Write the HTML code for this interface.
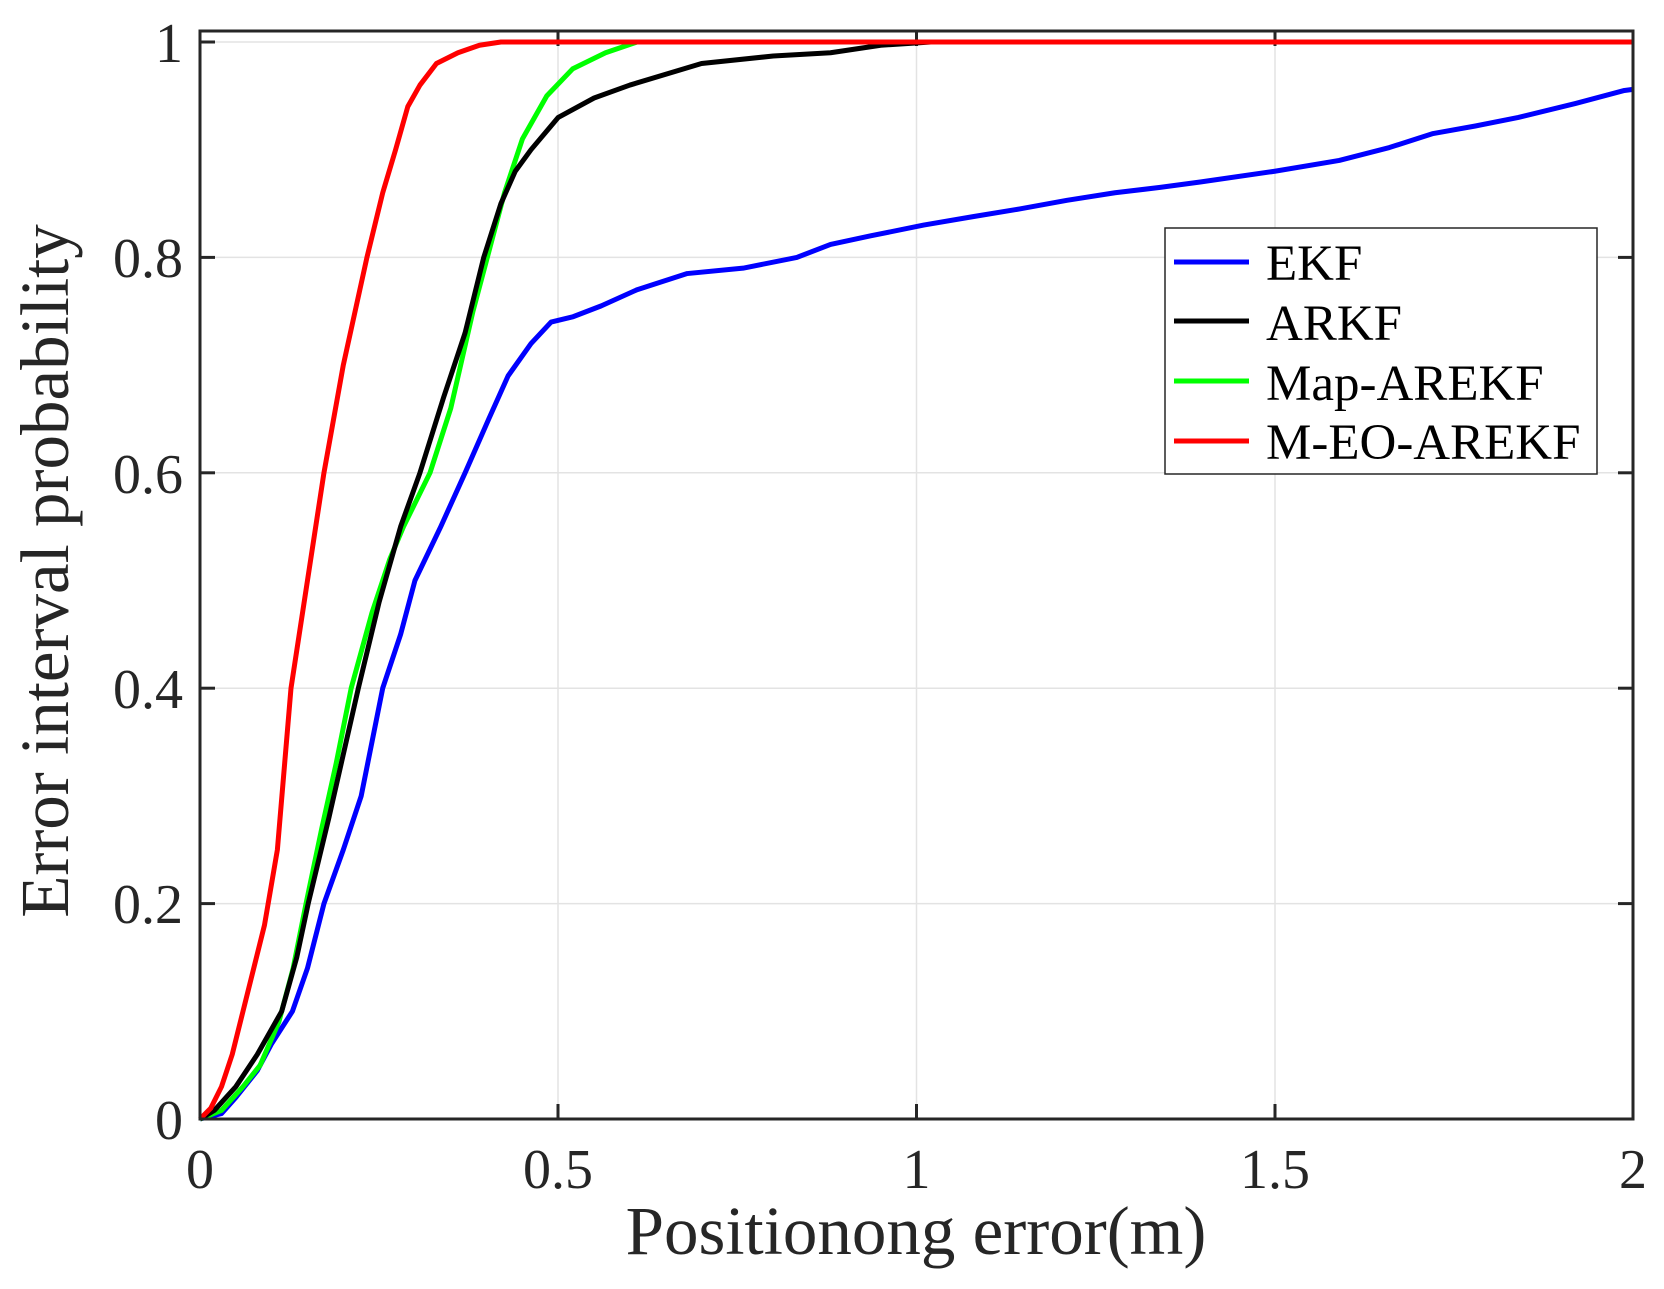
<!DOCTYPE html>
<html><head><meta charset="utf-8"><style>
html,body{margin:0;padding:0;background:#fff;}
svg text{font-family:"Liberation Serif",serif;fill:#262626;}
</style></head><body>
<svg width="1664" height="1284" viewBox="0 0 1664 1284" xmlns="http://www.w3.org/2000/svg">
<rect width="1664" height="1284" fill="#fff"/>
<g stroke="#e3e3e3" stroke-width="1.5">
<line x1="558" y1="31" x2="558" y2="1119"/>
<line x1="916.5" y1="31" x2="916.5" y2="1119"/>
<line x1="1275" y1="31" x2="1275" y2="1119"/>
<line x1="200" y1="903.6" x2="1633" y2="903.6"/>
<line x1="200" y1="688.2" x2="1633" y2="688.2"/>
<line x1="200" y1="472.8" x2="1633" y2="472.8"/>
<line x1="200" y1="257.4" x2="1633" y2="257.4"/>
<line x1="200" y1="42" x2="1633" y2="42"/>
</g>
<g stroke="#262626" stroke-width="3">
<line x1="558" y1="1119" x2="558" y2="1104"/><line x1="916.5" y1="1119" x2="916.5" y2="1104"/><line x1="1275" y1="1119" x2="1275" y2="1104"/>
<line x1="558" y1="31" x2="558" y2="46"/><line x1="916.5" y1="31" x2="916.5" y2="46"/><line x1="1275" y1="31" x2="1275" y2="46"/>
<line x1="200" y1="903.6" x2="215" y2="903.6"/><line x1="200" y1="688.2" x2="215" y2="688.2"/><line x1="200" y1="472.8" x2="215" y2="472.8"/><line x1="200" y1="257.4" x2="215" y2="257.4"/><line x1="200" y1="42" x2="215" y2="42"/>
<line x1="1633" y1="903.6" x2="1618" y2="903.6"/><line x1="1633" y1="688.2" x2="1618" y2="688.2"/><line x1="1633" y1="472.8" x2="1618" y2="472.8"/><line x1="1633" y1="257.4" x2="1618" y2="257.4"/><line x1="1633" y1="42" x2="1618" y2="42"/>
</g>
<g transform="translate(200,1119) scale(716.5,-1077)" fill="none" stroke-width="5" stroke-linejoin="round">
<polyline vector-effect="non-scaling-stroke" stroke="#0000ff" points="0,0 0.03,0.005 0.05,0.02 0.08,0.045 0.1,0.07 0.129,0.1 0.15,0.14 0.173,0.2 0.2,0.25 0.225,0.3 0.255,0.4 0.28,0.45 0.3,0.5 0.336,0.55 0.37,0.6 0.403,0.65 0.43,0.69 0.462,0.72 0.49,0.74 0.521,0.745 0.56,0.755 0.61,0.77 0.68,0.785 0.758,0.79 0.833,0.8 0.88,0.812 0.936,0.82 1.01,0.83 1.08,0.838 1.144,0.845 1.21,0.853 1.277,0.86 1.34,0.865 1.396,0.87 1.5,0.88 1.59,0.89 1.66,0.902 1.721,0.915 1.78,0.922 1.84,0.93 1.92,0.943 1.988,0.955 2,0.956"/>
<polyline vector-effect="non-scaling-stroke" stroke="#00ff00" points="0,0 0.03,0.008 0.06,0.03 0.084,0.05 0.11,0.09 0.13,0.14 0.148,0.2 0.17,0.27 0.19,0.33 0.211,0.4 0.24,0.47 0.265,0.52 0.284,0.55 0.321,0.6 0.35,0.66 0.381,0.75 0.405,0.81 0.425,0.86 0.45,0.91 0.484,0.95 0.52,0.975 0.566,0.99 0.61,1 2,1"/>
<polyline vector-effect="non-scaling-stroke" stroke="#000000" points="0,0 0.02,0.008 0.05,0.03 0.08,0.06 0.114,0.1 0.135,0.15 0.151,0.2 0.18,0.28 0.221,0.4 0.25,0.48 0.28,0.55 0.307,0.6 0.34,0.67 0.37,0.73 0.396,0.8 0.42,0.85 0.44,0.88 0.462,0.9 0.5,0.93 0.55,0.948 0.6,0.96 0.7,0.98 0.8,0.987 0.88,0.99 0.95,0.997 1.02,1 2,1"/>
<polyline vector-effect="non-scaling-stroke" stroke="#ff0000" points="0,0 0.015,0.01 0.03,0.03 0.045,0.06 0.06,0.1 0.075,0.14 0.09,0.18 0.108,0.25 0.127,0.4 0.15,0.5 0.173,0.6 0.2,0.7 0.233,0.8 0.255,0.86 0.273,0.9 0.29,0.94 0.307,0.96 0.33,0.98 0.36,0.99 0.39,0.997 0.42,1 2,1"/>
</g>
<rect x="200" y="31" width="1433" height="1088" fill="none" stroke="#262626" stroke-width="3"/>
<g font-size="56" text-anchor="end">
<text x="183" y="1139">0</text>
<text x="183" y="923">0.2</text>
<text x="183" y="708">0.4</text>
<text x="183" y="493">0.6</text>
<text x="183" y="277">0.8</text>
<text x="183" y="62">1</text>
</g>
<g font-size="56" text-anchor="middle">
<text x="200" y="1188">0</text>
<text x="558" y="1188">0.5</text>
<text x="916.5" y="1188">1</text>
<text x="1275" y="1188">1.5</text>
<text x="1633" y="1188">2</text>
</g>
<text x="916" y="1254" font-size="69" text-anchor="middle">Positionong error(m)</text>
<text transform="translate(68,571) rotate(-90)" font-size="69" text-anchor="middle">Error interval probability</text>
<rect x="1165" y="228" width="432" height="246" fill="#fff" stroke="#262626" stroke-width="1.5"/>
<g stroke-width="5">
<line x1="1174" y1="262" x2="1249" y2="262" stroke="#0000ff"/>
<line x1="1174" y1="321" x2="1249" y2="321" stroke="#000"/>
<line x1="1174" y1="381" x2="1249" y2="381" stroke="#00ff00"/>
<line x1="1174" y1="441" x2="1249" y2="441" stroke="#ff0000"/>
</g>
<g font-size="51">
<text x="1266" y="280" style="fill:#000">EKF</text>
<text x="1266" y="340" style="fill:#000">ARKF</text>
<text x="1266" y="400" style="fill:#000">Map-AREKF</text>
<text x="1266" y="459" style="fill:#000">M-EO-AREKF</text>
</g>
</svg>
</body></html>
